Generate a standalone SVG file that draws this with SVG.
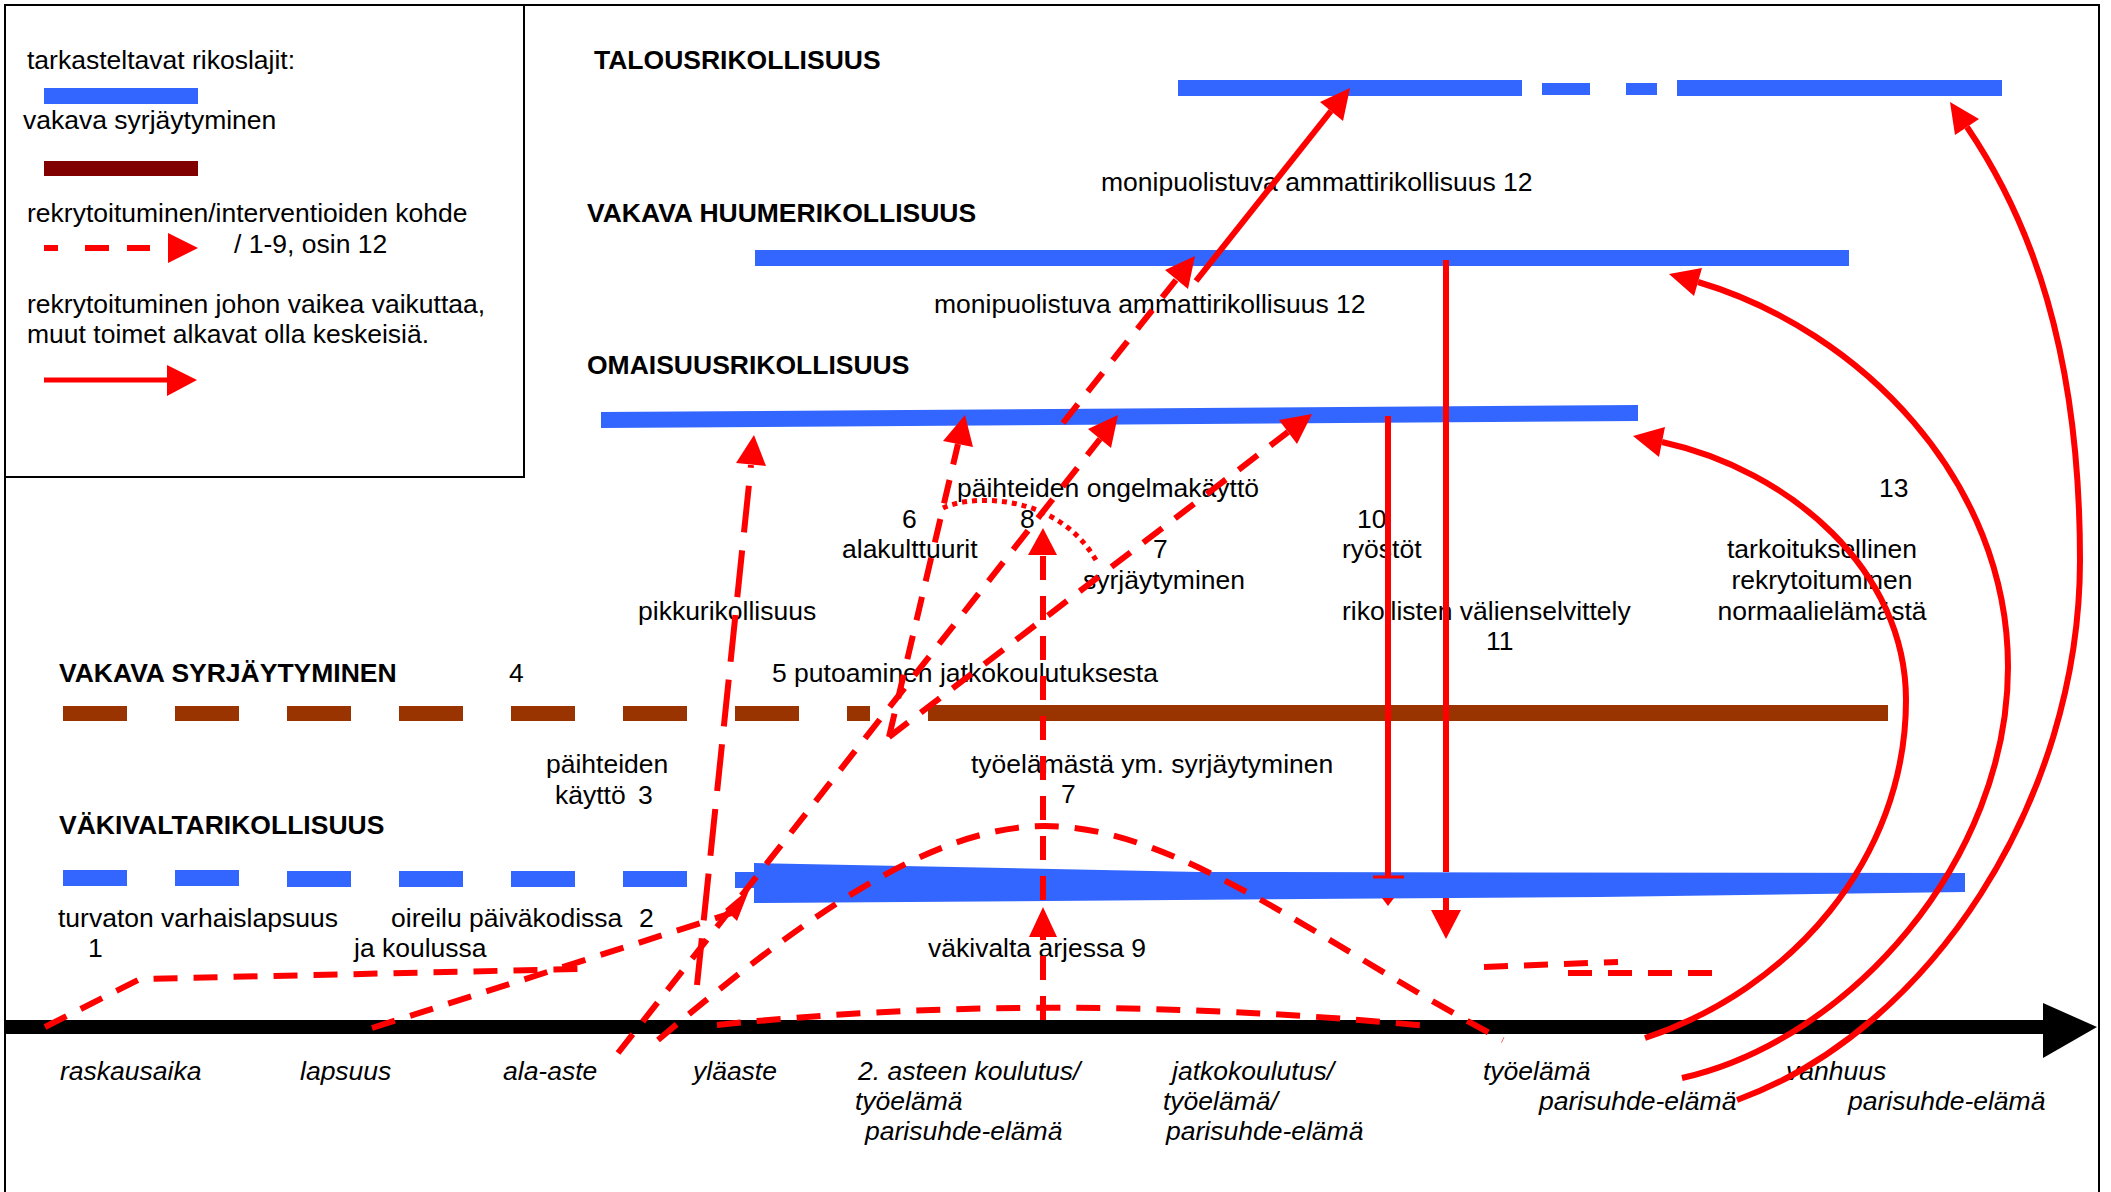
<svg xmlns="http://www.w3.org/2000/svg" width="2111" height="1192" viewBox="0 0 2111 1192">
<style>
.t{font-family:"Liberation Sans",Arial,sans-serif;font-size:26.5px;fill:#000}
.b{font-weight:bold}
.i{font-style:italic}
.m{text-anchor:middle}
.blue{fill:#3366FF}
.brown{fill:#993300}
.dash{stroke:#FF0000;stroke-width:6;fill:none;stroke-dasharray:24 16}
.dot{stroke:#FF0000;stroke-width:5;fill:none;stroke-dasharray:5 5}
.solid{stroke:#FF0000;stroke-width:6;fill:none}
.ah{fill:#FF0000}
</style>
<rect width="2111" height="1192" fill="#fff"/>
<g id="frame" fill="none" stroke="#000" stroke-width="2">
<rect x="5" y="5" width="2094" height="1200"/>
<path d="M524,5 V477 H5"/>
</g>
<g id="legend">
<text class="t" x="27" y="69">tarkasteltavat rikoslajit:</text>
<rect class="blue" x="44" y="88" width="154" height="16"/>
<text class="t" x="23" y="129">vakava syrjäytyminen</text>
<rect x="44" y="161" width="154" height="15" fill="#800000"/>
<text class="t" x="27" y="222">rekrytoituminen/interventioiden kohde</text>
<path d="M44,248 H58 M85,248 H109 M127,248 H150" stroke="#FF0000" stroke-width="6" fill="none"/>
<polygon class="ah" points="168,233 198,248 168,263"/>
<text class="t" x="234" y="253">/ 1-9, osin 12</text>
<text class="t" x="27" y="313">rekrytoituminen johon vaikea vaikuttaa,</text>
<text class="t" x="27" y="343">muut toimet alkavat olla keskeisiä.</text>
<path d="M44,380 H170" stroke="#FF0000" stroke-width="5" fill="none"/>
<polygon class="ah" points="167,365 197,380 167,396"/>
</g>
<g id="talous">
<text class="t b" x="594" y="69">TALOUSRIKOLLISUUS</text>
<rect class="blue" x="1178" y="80" width="344" height="16"/>
<rect class="blue" x="1542" y="83" width="48" height="12"/>
<rect class="blue" x="1626" y="83" width="31" height="12"/>
<rect class="blue" x="1677" y="80" width="325" height="16"/>
</g>
<g id="huume">
<text class="t b" x="587" y="222">VAKAVA HUUMERIKOLLISUUS</text>
<rect class="blue" x="755" y="250" width="1094" height="16"/>
</g>
<g id="omaisuus">
<text class="t b" x="587" y="374">OMAISUUSRIKOLLISUUS</text>
<polygon class="blue" points="601,412 1638,405 1638,421 601,428"/>
</g>
<g id="syrjaytyminen">
<text class="t b" x="59" y="682">VAKAVA SYRJÄYTYMINEN</text>
<text class="t" x="509" y="682">4</text>
<text class="t" x="772" y="682">5 putoaminen jatkokoulutuksesta</text>
<g class="brown">
<rect x="63" y="706" width="64" height="15"/>
<rect x="175" y="706" width="64" height="15"/>
<rect x="287" y="706" width="64" height="15"/>
<rect x="399" y="706" width="64" height="15"/>
<rect x="511" y="706" width="64" height="15"/>
<rect x="623" y="706" width="64" height="15"/>
<rect x="735" y="706" width="64" height="15"/>
<rect x="847" y="706" width="23" height="15"/>
<rect x="928" y="705" width="960" height="16"/>
</g>
</g>
<g id="vakivalta">
<text class="t b" x="59" y="834">VÄKIVALTARIKOLLISUUS</text>
<g class="blue">
<rect x="63" y="870" width="64" height="16"/>
<rect x="175" y="870" width="64" height="16"/>
<rect x="287" y="871" width="64" height="16"/>
<rect x="399" y="871" width="64" height="16"/>
<rect x="511" y="871" width="64" height="16"/>
<rect x="623" y="871" width="64" height="16"/>
<rect x="735" y="872" width="20" height="16"/>
<polygon points="754,863 1200,872 1965,873 1965,892 1600,897 754,903"/>
</g>
</g>
<g id="labels">
<text class="t" x="1101" y="191">monipuolistuva ammattirikollisuus 12</text>
<text class="t" x="934" y="313">monipuolistuva ammattirikollisuus 12</text>
<text class="t" x="957" y="497">päihteiden ongelmakäyttö</text>
<text class="t" x="902" y="528">6</text>
<text class="t" x="1020" y="528">8</text>
<text class="t" x="1357" y="528">10</text>
<text class="t" x="1879" y="497">13</text>
<text class="t" x="842" y="558">alakulttuurit</text>
<text class="t" x="1153" y="558">7</text>
<text class="t" x="1342" y="558">ryöstöt</text>
<text class="t" x="1083" y="589">syrjäytyminen</text>
<text class="t" x="638" y="620">pikkurikollisuus</text>
<text class="t" x="1342" y="620">rikollisten välienselvittely</text>
<text class="t" x="1486" y="650">11</text>
<text class="t m" x="1822" y="558">tarkoituksellinen</text>
<text class="t m" x="1822" y="589">rekrytoituminen</text>
<text class="t m" x="1822" y="620">normaalielämästä</text>
<text class="t" x="546" y="773">päihteiden</text>
<text class="t" x="555" y="804">käyttö<tspan x="638">3</tspan></text>
<text class="t" x="971" y="773">työelämästä ym. syrjäytyminen</text>
<text class="t" x="1061" y="803">7</text>
<text class="t" x="58" y="927">turvaton varhaislapsuus</text>
<text class="t" x="88" y="957">1</text>
<text class="t" x="391" y="927">oireilu päiväkodissa<tspan x="639">2</tspan></text>
<text class="t" x="354" y="957">ja koulussa</text>
<text class="t" x="928" y="957">väkivalta arjessa 9</text>
</g>
<g id="timeline">
<rect x="5" y="1020" width="2038" height="14" fill="#000"/>
<polygon points="2043,1003 2097,1027 2043,1058" fill="#000"/>
<text class="t i" x="60" y="1080">raskausaika</text>
<text class="t i" x="300" y="1080">lapsuus</text>
<text class="t i" x="503" y="1080">ala-aste</text>
<text class="t i" x="693" y="1080">yläaste</text>
<text class="t i" x="858" y="1080">2. asteen koulutus/</text>
<text class="t i" x="855" y="1110">työelämä</text>
<text class="t i" x="865" y="1140">parisuhde-elämä</text>
<text class="t i" x="1172" y="1080">jatkokoulutus/</text>
<text class="t i" x="1163" y="1110">työelämä/</text>
<text class="t i" x="1166" y="1140">parisuhde-elämä</text>
<text class="t i" x="1483" y="1080">työelämä</text>
<text class="t i" x="1539" y="1110">parisuhde-elämä</text>
<text class="t i" x="1786" y="1080">vanhuus</text>
<text class="t i" x="1848" y="1110">parisuhde-elämä</text>
</g>
<g id="connectors">
<path class="dash" d="M697,985 L751,465" style="stroke-dasharray:47 18"/>
<polygon class="ah" points="754,435 766,466 736,463"/>
<path class="dash" d="M889,737 L958,444"/>
<polygon class="ah" points="965,415 973,447 943,441"/>
<path class="dash" d="M889,737 L1288,432"/>
<polygon class="ah" points="1312,414 1297,444 1279,420"/>
<path class="dash" d="M618,1053 L1100,439"/>
<polygon class="ah" points="1118,415 1111,448 1088,429"/>
<path class="dash" d="M1063,423 L1176,280"/>
<polygon class="ah" points="1195,256 1188,289 1165,270"/>
<path class="dot" d="M943,508 C975,493 1060,495 1097,562"/>
<path class="dash" d="M1043,1020 L1043,555"/>
<polygon class="ah" points="1043,528 1057,555 1028,555"/>
<polygon class="ah" points="1043,907 1057,937 1029,937"/>
<path class="dash" d="M658,1040 C800,920 930,826 1045,826 C1180,826 1330,950 1503,1040"/>
<path class="dash" d="M717,1025 Q1050,990 1427,1026"/>
<path class="dash" d="M45,1027 L140,979 L580,969"/>
<path class="dash" d="M372,1028 L735,912"/>
<polygon class="ah" points="750,888 725,909 737,921"/>
<path class="dash" d="M1484,967 L1618,962"/>
<path class="dash" d="M1568,973 L1716,973"/>
<path class="solid" d="M1196,281 L1331,111"/>
<polygon class="ah" points="1350,88 1343,121 1320,102"/>
<path class="solid" d="M1388,416 L1388,877"/>
<path d="M1373,877 H1404" stroke="#FF0000" stroke-width="3"/>
<polygon class="ah" points="1382,898 1394,898 1388,906"/>
<path class="solid" d="M1446,260 L1446,872 M1446,898 L1446,912"/>
<polygon class="ah" points="1446,939 1461,910 1431,910"/>
<path class="solid" d="M1645,1038 C1790,990 1906,860 1906,700 C1906,570 1790,470 1662,442"/>
<polygon class="ah" points="1633,436 1665,427 1659,457"/>
<path class="solid" d="M1682,1078 C1850,1040 2008,860 2008,667 C2008,480 1860,330 1698,282"/>
<polygon class="ah" points="1669,274 1702,268 1694,296"/>
<path class="solid" d="M1737,1100 C1930,1030 2080,800 2080,560 C2080,350 2030,220 1967,127"/>
<polygon class="ah" points="1950,102 1979,119 1955,135"/>
</g>
</svg>
